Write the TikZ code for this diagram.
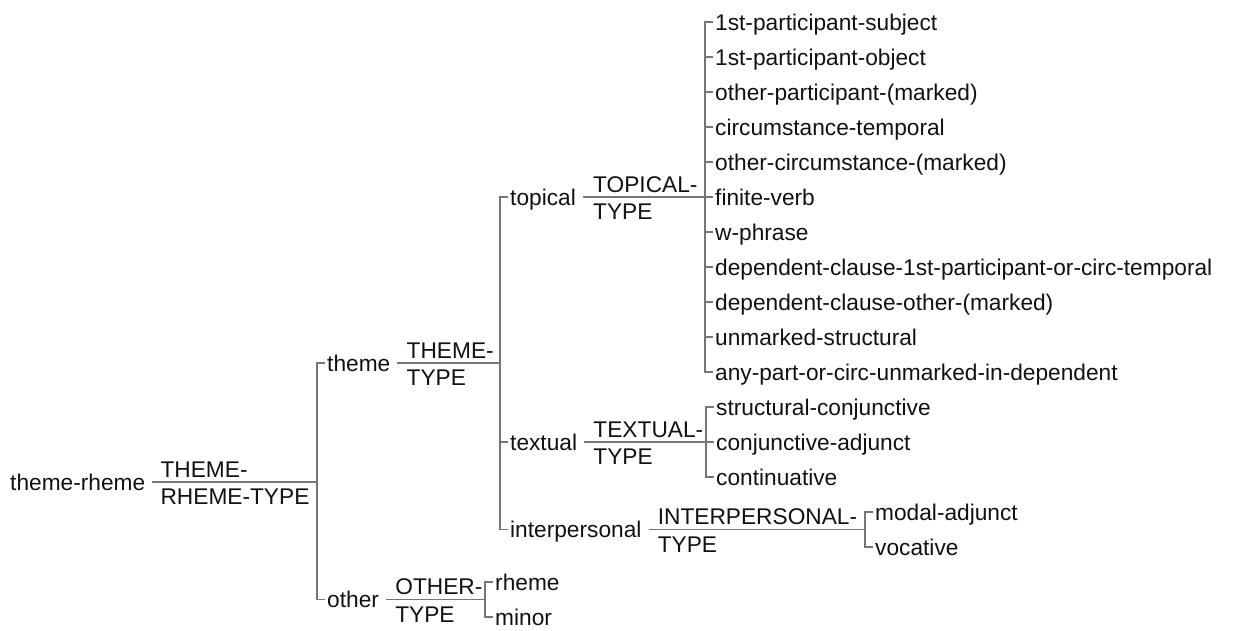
\documentclass[tikz,border=0pt]{standalone}
\usepackage{fontspec}
\setmainfont{Liberation Sans}
\usetikzlibrary{calc}
\definecolor{linegray}{RGB}{118,118,118}
\definecolor{inkblack}{RGB}{17,17,17}
\newcommand{\netfont}{\fontsize{22.7}{27}\selectfont}
\tikzset{
  lbl/.style={anchor=west, inner xsep=2pt, inner ysep=0pt, text height=16.3pt, text depth=0pt, font=\netfont, text=inkblack},
  typeup/.style={anchor=base west, inner sep=0pt, font=\netfont, text=inkblack},
  typedn/.style={anchor=north west, inner sep=0pt, text height=16.3pt, text depth=0pt, font=\netfont, text=inkblack},
  conn/.style={draw=linegray, line width=1.3pt},
}
\begin{document}
\begin{tikzpicture}[x=1pt, y=-1pt]
\useasboundingbox (0,0) rectangle (1239,630);

% bracket positions
\coordinate (b0) at (317,0);
\coordinate (b1) at (500,0);
\coordinate (b2) at (705,0);
\coordinate (b3) at (706,0);
\coordinate (b4) at (865,0);
\coordinate (b5) at (485,0);

% root system
\node[lbl] (tr) at (8,482) {theme-rheme};
\coordinate (trs) at ($(tr.east)+(5,0)$);
\node[typeup] (trU) at ($(trs)+(8,-5)$) {THEME-};
\node[typedn] (trD) at ($(trs)+(8,6)$) {RHEME-TYPE};
\draw[conn] (trs) -- (trs -| b0);

% theme
\node[lbl] (th) at (325,363) {theme};
\coordinate (ths) at ($(th.east)+(5,0)$);
\node[typeup] (thU) at ($(ths)+(9,-5)$) {THEME-};
\node[typedn] (thD) at ($(ths)+(9,6)$) {TYPE};
\draw[conn] (ths) -- (ths -| b1);

% other
\node[lbl] (ot) at (325,599.5) {other};
\coordinate (ots) at ($(ot.east)+(5,0)$);
\node[typeup] (otU) at ($(ots)+(9,-5)$) {OTHER-};
\node[typedn] (otD) at ($(ots)+(9,6)$) {TYPE};
\draw[conn] (ots) -- (ots -| b5);
\draw[conn] (th.west) -| (ot.west -| b0) -- (ot.west);

% theme types
\node[lbl] (tp) at (508,197) {topical};
\coordinate (tps) at ($(tp.east)+(5,0)$);
\node[typeup] (tpU) at ($(tps)+(10,-5)$) {TOPICAL-};
\node[typedn] (tpD) at ($(tps)+(10,6)$) {TYPE};
\draw[conn] (tps) -- (tps -| b2);

\node[lbl] (tx) at (508,442) {textual};
\coordinate (txs) at ($(tx.east)+(5,0)$);
\node[typeup] (txU) at ($(txs)+(9,-5)$) {TEXTUAL-};
\node[typedn] (txD) at ($(txs)+(9,6)$) {TYPE};
\draw[conn] (txs) -- (txs -| b3);

\node[lbl] (ip) at (508,529.5) {interpersonal};
\coordinate (ips) at ($(ip.east)+(5,0)$);
\node[typeup] (ipU) at ($(ips)+(9,-5)$) {INTERPERSONAL-};
\node[typedn] (ipD) at ($(ips)+(9,6)$) {TYPE};
\draw[conn] (ips) -- (ips -| b4);

\draw[conn] (tp.west) -| (ip.west -| b1) -- (ip.west);
\draw[conn] (tx.west) -- (tx.west -| b1);

% topical leaves
\node[lbl] (l1)  at (713,22)  {1st-participant-subject};
\node[lbl] (l2)  at (713,57)  {1st-participant-object};
\node[lbl] (l3)  at (713,92)  {other-participant-(marked)};
\node[lbl] (l4)  at (713,127) {circumstance-temporal};
\node[lbl] (l5)  at (713,162) {other-circumstance-(marked)};
\node[lbl] (l6)  at (713,197) {finite-verb};
\node[lbl] (l7)  at (713,232) {w-phrase};
\node[lbl] (l8)  at (713,267) {dependent-clause-1st-participant-or-circ-temporal};
\node[lbl] (l9)  at (713,302) {dependent-clause-other-(marked)};
\node[lbl] (l10) at (713,337) {unmarked-structural};
\node[lbl] (l11) at (713,372) {any-part-or-circ-unmarked-in-dependent};
\draw[conn] (l1.west) -| (l11.west -| b2) -- (l11.west);
\foreach \n in {l2,l3,l4,l5,l6,l7,l8,l9,l10}
  \draw[conn] (\n.west) -- (\n.west -| b2);

% textual leaves
\node[lbl] (x1) at (714,407) {structural-conjunctive};
\node[lbl] (x2) at (714,442) {conjunctive-adjunct};
\node[lbl] (x3) at (714,477) {continuative};
\draw[conn] (x1.west) -| (x3.west -| b3) -- (x3.west);
\draw[conn] (x2.west) -- (x2.west -| b3);

% interpersonal leaves
\node[lbl] (i1) at (873,512) {modal-adjunct};
\node[lbl] (i2) at (873,547) {vocative};
\draw[conn] (i1.west) -| (i2.west -| b4) -- (i2.west);

% other leaves
\node[lbl] (o1) at (493,582) {rheme};
\node[lbl] (o2) at (493,617) {minor};
\draw[conn] (o1.west) -| (o2.west -| b5) -- (o2.west);
\end{tikzpicture}
\end{document}
